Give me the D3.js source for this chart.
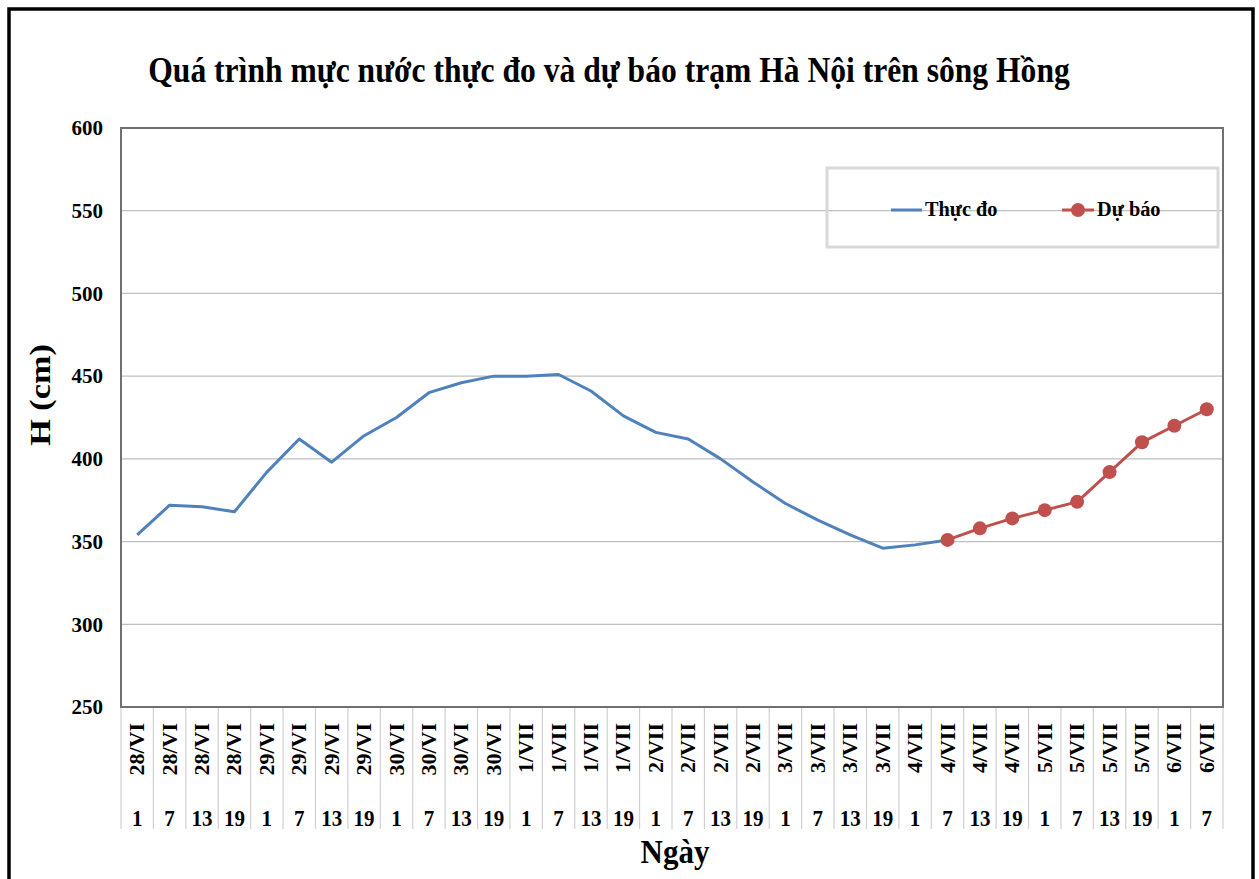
<!DOCTYPE html>
<html>
<head>
<meta charset="utf-8">
<script src="https://cdn.jsdelivr.net/npm/d3@7"></script>
<style>
  html, body { margin: 0; padding: 0; background: #ffffff; }
  svg { display: block; }
  text { font-family: "Liberation Serif", "Times New Roman", serif; font-weight: bold; fill: #000; }
</style>
</head>
<body>
<svg id="chart" width="1259" height="879"></svg>
<script>
// ---- data ----
const dates = ["28/VI","28/VI","28/VI","28/VI","29/VI","29/VI","29/VI","29/VI",
               "30/VI","30/VI","30/VI","30/VI","1/VII","1/VII","1/VII","1/VII",
               "2/VII","2/VII","2/VII","2/VII","3/VII","3/VII","3/VII","3/VII",
               "4/VII","4/VII","4/VII","4/VII","5/VII","5/VII","5/VII","5/VII",
               "6/VII","6/VII"];
const hours = ["1","7","13","19","1","7","13","19","1","7","13","19","1","7","13","19",
               "1","7","13","19","1","7","13","19","1","7","13","19","1","7","13","19","1","7"];
// Thực đo (observed), index 0..25
const observed = [354, 372, 371, 368, 392, 412, 398, 414, 425, 440, 446, 450, 450,
                  451, 441, 426, 416, 412, 400, 386, 373, 363, 354, 346, 348, 351];
// Dự báo (forecast), index 25..33
const forecastStart = 25;
const forecast = [351, 358, 364, 369, 374, 392, 410, 420, 430];
const yTicks = [250, 300, 350, 400, 450, 500, 550, 600];
const seriesNames = ["Thực đo", "Dự báo"];
const title = "Quá trình mực nước thực đo và dự báo trạm Hà Nội trên sông Hồng";
const yTitle = "H (cm)";
const xTitle = "Ngày";

// ---- layout ----
const svg = d3.select("#chart");
const W = 1259, H = 879;
const plot = { left: 121, right: 1223, top: 128, bottom: 707 };
const blue = "#4f81bd", red = "#c0504d";
const stretch = 1.12; // text in the reference is slightly tall

const idx = d3.range(dates.length);
const x = d3.scaleBand().domain(idx).range([plot.left, plot.right]).padding(0);
const xc = i => x(i) + x.bandwidth() / 2;
const y = d3.scaleLinear().domain([250, 600]).range([plot.bottom, plot.top]);

svg.append("rect").attr("width", W).attr("height", H).attr("fill", "#fff");
// outer frame
svg.append("rect").attr("x", 9).attr("y", 9).attr("width", 1244).attr("height", 900)
  .attr("fill", "none").attr("stroke", "#000").attr("stroke-width", 3.5);

// title
svg.append("text").attr("transform", `translate(609,82) scale(1,${stretch})`)
  .attr("text-anchor", "middle").style("font-size", "31.6px").text(title);

// gridlines
svg.append("g").selectAll("line").data(yTicks.filter(t => t > 250 && t < 600)).join("line")
  .attr("x1", plot.left).attr("x2", plot.right)
  .attr("y1", d => y(d)).attr("y2", d => y(d))
  .attr("stroke", "#bfbfbf").attr("stroke-width", 1.3);

// y axis labels
const yAxis = d3.axisLeft(y).tickValues(yTicks).tickSize(0).tickPadding(18);
const gy = svg.append("g").attr("transform", `translate(${plot.left},0)`).call(yAxis);
gy.select(".domain").remove();
gy.selectAll("text").style("font-size", "21px")
  .style("font-family", "'Liberation Serif', serif").style("font-weight", "bold").attr("fill", "#000");

// category table lines below axis
svg.append("g").selectAll("line").data(d3.range(dates.length + 1)).join("line")
  .attr("x1", i => plot.left + i * x.bandwidth()).attr("x2", i => plot.left + i * x.bandwidth())
  .attr("y1", plot.bottom).attr("y2", 829)
  .attr("stroke", "#d0d0d0").attr("stroke-width", 1.2);

// x labels (dates rotated, hours)
svg.append("g").selectAll("text").data(idx).join("text")
  .attr("transform", i => `translate(${xc(i)},723) rotate(-90) scale(1.1,1)`)
  .attr("text-anchor", "end").attr("dy", "0.35em")
  .style("font-size", "20px").text(i => dates[i]);
svg.append("g").selectAll("text").data(idx).join("text")
  .attr("transform", i => `translate(${xc(i)},826) scale(1,1.1)`)
  .attr("text-anchor", "middle")
  .style("font-size", "21px").text(i => hours[i]);

// plot border
svg.append("rect").attr("x", plot.left).attr("y", plot.top)
  .attr("width", plot.right - plot.left).attr("height", plot.bottom - plot.top)
  .attr("fill", "none").attr("stroke", "#707070").attr("stroke-width", 2);

// axis titles
svg.append("text").attr("transform", `translate(50,395) rotate(-90) scale(1.14,1)`)
  .attr("text-anchor", "middle").style("font-size", "30px").text(yTitle);
svg.append("text").attr("transform", `translate(675,863) scale(1,1.08)`)
  .attr("text-anchor", "middle").style("font-size", "31px").text(xTitle);

// series
const line = d3.line().x(d => xc(d.i)).y(d => y(d.v));
const obsData = observed.map((v, i) => ({ i, v }));
const fcData = forecast.map((v, k) => ({ i: forecastStart + k, v }));
svg.append("path").datum(obsData).attr("d", line)
  .attr("fill", "none").attr("stroke", blue).attr("stroke-width", 3).attr("stroke-linejoin", "round");
svg.append("path").datum(fcData).attr("d", line)
  .attr("fill", "none").attr("stroke", red).attr("stroke-width", 3).attr("stroke-linejoin", "round");
svg.append("g").selectAll("circle").data(fcData).join("circle")
  .attr("cx", d => xc(d.i)).attr("cy", d => y(d.v)).attr("r", 7).attr("fill", red);

// legend
const lg = svg.append("g");
lg.append("rect").attr("x", 827).attr("y", 168).attr("width", 391).attr("height", 79)
  .attr("fill", "none").attr("stroke", "#d9d9d9").attr("stroke-width", 3);
lg.append("line").attr("x1", 891).attr("x2", 922).attr("y1", 210).attr("y2", 210)
  .attr("stroke", blue).attr("stroke-width", 3);
lg.append("text").attr("transform", `translate(925,216) scale(1,1.08)`)
  .style("font-size", "20.3px").text(seriesNames[0]);
lg.append("line").attr("x1", 1062).attr("x2", 1094).attr("y1", 210).attr("y2", 210)
  .attr("stroke", red).attr("stroke-width", 3);
lg.append("circle").attr("cx", 1078).attr("cy", 210).attr("r", 7).attr("fill", red);
lg.append("text").attr("transform", `translate(1097,216) scale(1,1.08)`)
  .style("font-size", "20.3px").text(seriesNames[1]);
</script>
</body>
</html>
